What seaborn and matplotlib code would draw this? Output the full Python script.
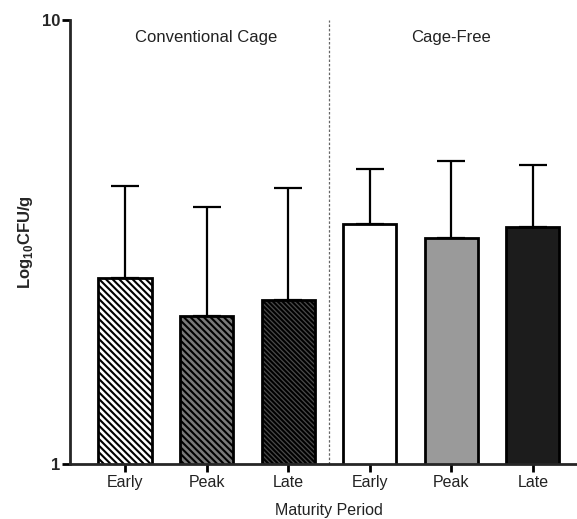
import matplotlib
matplotlib.use("Agg")
import matplotlib.pyplot as plt
import seaborn as sns
import numpy as np
import pandas as pd

# ---- data ----
groups = ["Conventional Cage", "Conventional Cage", "Conventional Cage",
          "Cage-Free", "Cage-Free", "Cage-Free"]
periods = ["Early", "Peak", "Late", "Early", "Peak", "Late"]
means = [2.62, 2.15, 2.34, 3.47, 3.23, 3.42]
upper = [4.22, 3.80, 4.19, 4.61, 4.82, 4.72]
group_titles = ["Conventional Cage", "Cage-Free"]
fills = ["#ffffff", "#7a7a7a", "#4a4a4a", "#ffffff", "#9a9a9a", "#1c1c1c"]
hatches = ["\\" * 5, "\\" * 5, "\\" * 7, "", "", ""]

sns.set_theme(style="ticks")
plt.rcParams["font.family"] = ["Liberation Sans", "DejaVu Sans"]
plt.rcParams["mathtext.fontset"] = "custom"
plt.rcParams["mathtext.bf"] = "Liberation Sans:bold"
plt.rcParams["mathtext.rm"] = "Liberation Sans"
plt.rcParams["hatch.linewidth"] = 1.5
plt.rcParams["hatch.color"] = "black"

keys = [f"{g}|{p}" for g, p in zip(groups, periods)]
df = pd.DataFrame({"key": keys, "mean": means})

fig = plt.figure(figsize=(5.77, 5.19), dpi=100)
ax = fig.add_axes([0.1213, 0.106, 0.8787, 0.8555])
ax.set_yscale("log")

sns.barplot(data=df, x="key", y="mean", hue="key", palette=fills, legend=False,
            width=0.65, edgecolor="black", linewidth=2, ax=ax, errorbar=None,
            saturation=1)

for patch, h in zip(ax.patches, hatches):
    patch.set_hatch(h)
    patch.set_edgecolor("black")

xpos = np.arange(len(means))
m = np.array(means)
u = np.array(upper)
ax.errorbar(xpos, m, yerr=[np.zeros_like(m), u - m], fmt="none",
            ecolor="black", elinewidth=1.6, capsize=10, capthick=1.6, zorder=3)

ax.set_ylim(1, 10)
ax.set_xlim(-0.674, 5.54)
ax.set_yticks([1, 10])
ax.set_yticklabels(["1", "10"], fontweight="bold", fontsize=12)
ax.yaxis.set_minor_locator(matplotlib.ticker.NullLocator())
ax.set_xticks(xpos)
ax.set_xticklabels(periods, fontsize=11.5, color="#222222")

for s in ["top", "right"]:
    ax.spines[s].set_visible(False)
ax.spines["left"].set_linewidth(2)
ax.spines["bottom"].set_linewidth(2)
ax.tick_params(axis="both", width=2, length=6, color="black", direction="out")
ax.tick_params(axis="y", pad=1)
ax.tick_params(axis="x", pad=2)

ax.set_xlabel("")
ax.set_ylabel(r"Log$_\mathbf{10}$CFU/g", fontweight="bold", fontsize=12, labelpad=5)
fig.text(329 / 577, 1 - 510 / 519, "Maturity Period", ha="center", va="center",
         fontsize=11.5, color="#222222")

# divider
ax.axvline(2.5, color="#666666", linestyle=(0, (2, 1.5)), linewidth=0.9)

# group titles
ax.text(1, 0.96, group_titles[0], transform=ax.get_xaxis_transform(),
        ha="center", va="center", fontsize=12, color="#222222")
ax.text(4, 0.96, group_titles[1], transform=ax.get_xaxis_transform(),
        ha="center", va="center", fontsize=12, color="#222222")

fig.savefig("out.png", dpi=100)
